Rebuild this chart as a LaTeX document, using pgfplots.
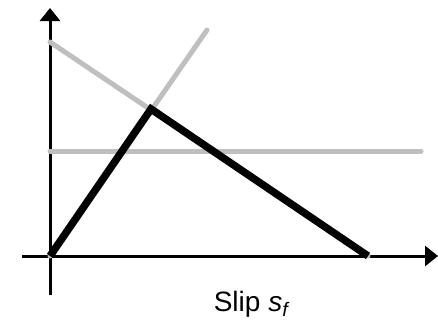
\documentclass[border=0pt]{standalone}
\usepackage{fontspec}
\setmainfont{Liberation Sans}
\usepackage{pgfplots}
\pgfplotsset{compat=1.18}
\usetikzlibrary{arrows.meta}
\definecolor{lightgray}{RGB}{191,191,191}
\begin{document}
\begin{tikzpicture}
\begin{axis}[
  width=438pt, height=325pt, scale only axis,
  xmin=-0.50, xmax=3.88, ymin=-0.69, ymax=2.56,
  hide axis, clip=false,
]
% axes
\addplot[black, line width=3pt, -{Triangle[width=20pt,length=13pt]}]
  coordinates {(-0.28,0) (3.88,0)};
\addplot[black, line width=3pt, -{Triangle[width=20pt,length=13pt]}]
  coordinates {(0,-0.39) (0,2.48)};
% grey reference lines
\addplot[lightgray, line width=5pt, line cap=round]
  coordinates {(0,2.14) (3.18,0)};
\addplot[lightgray, line width=5pt, line cap=round]
  coordinates {(0,0) (1.57,2.26)};
\addplot[lightgray, line width=5pt, line cap=round]
  coordinates {(0,1.05) (3.71,1.05)};
% slip response
\addplot[black, line width=7.5pt, line join=miter]
  coordinates {(0,0) (1.01,1.47) (3.18,0)};
\node[anchor=base, font=\fontsize{28}{32}\selectfont] at (axis cs:2.01,-0.55)
  {Slip {\itshape s}\textsubscript{\itshape f}};
\end{axis}
\pgfresetboundingbox
\path (current axis.south west) rectangle (current axis.north east);
\end{tikzpicture}
\end{document}
